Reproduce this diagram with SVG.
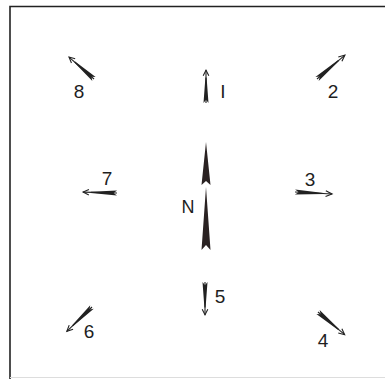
<svg xmlns="http://www.w3.org/2000/svg" xmlns:xlink="http://www.w3.org/1999/xlink" width="385" height="379" viewBox="0 0 385 379">
<style>
.lbl{font-family:"Liberation Sans",Arial,sans-serif;font-size:19px;fill:#1e1e1e;text-anchor:middle}
.frame{stroke:#222;stroke-width:1.6;fill:none}
</style>
<defs>
<g id="arr">
<path d="M0,-2.5 L3.5,0 L0,2.5 L27,0.6 L27,-0.6 Z" fill="#222"/>
<path d="M0,0 H35" stroke="#222" stroke-width="1.1" fill="none"/>
<path d="M29,-2.8 L35,0 L29,2.8" stroke="#222" stroke-width="1.1" fill="none"/>
</g>
</defs>
<rect width="385" height="379" fill="#fff"/>
<g id="frame">
<path class="frame" d="M10,379 V6.5 H385"/>
<path d="M10,377.5 H385" stroke="#ddd" stroke-width="1" fill="none"/>
</g>
<g id="n-arrow">
<path d="M206,142 L210.5,185 L206,181 L201.5,185 Z" fill="#2a2222"/>
<path d="M206,187 L210.5,250 L206,245 L201.5,250 Z" fill="#2a2222"/>
<text class="lbl" x="188" y="213" style="font-size:18px">N</text>
</g>
<g id="wind1">
<use xlink:href="#arr" transform="translate(206,103) rotate(-90) scale(0.94,1)"/>
<text class="lbl" x="223" y="98">I</text>
</g>
<g id="wind2">
<use xlink:href="#arr" transform="translate(317,79) rotate(-40.6) scale(1.05,1)"/>
<text class="lbl" x="333" y="98">2</text>
</g>
<g id="wind3">
<use xlink:href="#arr" transform="translate(295,192) rotate(3) scale(1.06,1)"/>
<text class="lbl" x="310" y="186">3</text>
</g>
<g id="wind4">
<use xlink:href="#arr" transform="translate(318,312) rotate(40.4)"/>
<text class="lbl" x="323" y="347">4</text>
</g>
<g id="wind5">
<use xlink:href="#arr" transform="translate(205,282) rotate(90) scale(0.94,1)"/>
<text class="lbl" x="220" y="303">5</text>
</g>
<g id="wind6">
<use xlink:href="#arr" transform="translate(92,307) rotate(136)"/>
<text class="lbl" x="89" y="338">6</text>
</g>
<g id="wind7">
<use xlink:href="#arr" transform="translate(117,193) rotate(181.5) scale(0.97,1)"/>
<text class="lbl" x="107" y="185">7</text>
</g>
<g id="wind8">
<use xlink:href="#arr" transform="translate(94,79) rotate(-138.7) scale(0.95,1)"/>
<text class="lbl" x="79" y="98">8</text>
</g>
</svg>
